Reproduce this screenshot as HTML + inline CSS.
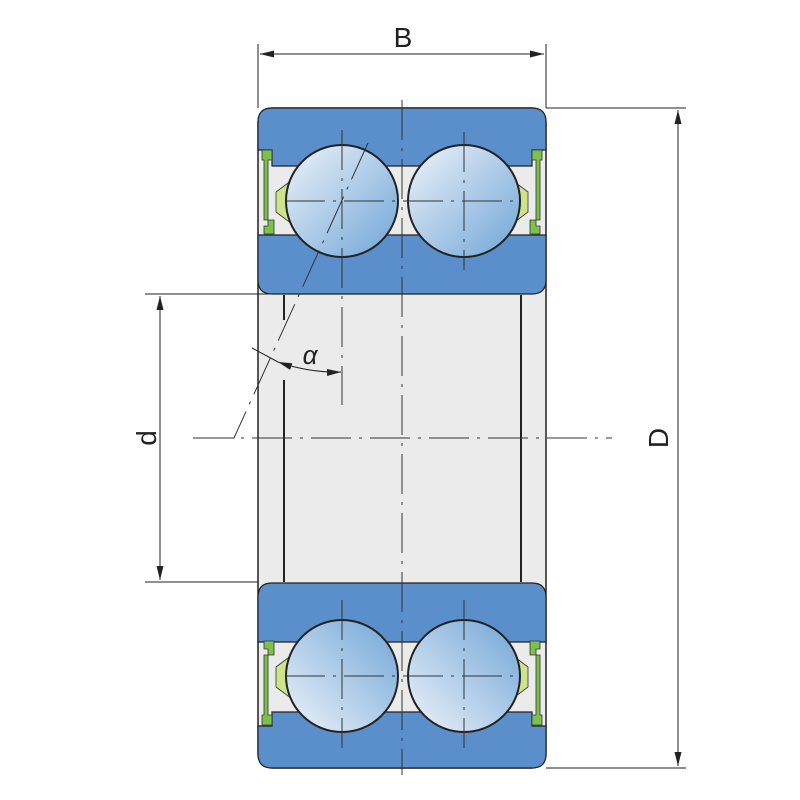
<!DOCTYPE html>
<html><head><style>html,body{margin:0;background:#fff}svg{display:block}</style></head><body>
<svg width="800" height="800" viewBox="0 0 800 800" xmlns="http://www.w3.org/2000/svg" font-family="Liberation Sans, sans-serif">
<defs>
<linearGradient id="bg1" x1="0" y1="0" x2="1" y2="1"><stop offset="0" stop-color="#eef3fa"/><stop offset="1" stop-color="#6fa5d6"/></linearGradient>
<linearGradient id="bg2" x1="0" y1="1" x2="1" y2="0"><stop offset="0" stop-color="#eef3fa"/><stop offset="1" stop-color="#6fa5d6"/></linearGradient>
<marker id="ar2" viewBox="0 0 14 8" refX="14" refY="4" markerWidth="14" markerHeight="8" orient="auto-start-reverse" markerUnits="userSpaceOnUse"><path d="M0,0.5 L14,4 L0,7.5 z" fill="#222"/></marker>
</defs>
<rect x="258" y="108" width="288" height="660" rx="14" fill="#ebebeb" stroke="#222" stroke-width="1.5"/>
<path d="M272,108 H532 Q546,108 546,122 V150 H532 V166 H272 V150 H258 V122 Q258,108 272,108 Z" fill="#5a8fcc" stroke="#222" stroke-width="1.2"/>
<path d="M258,235 H546 V280 Q546,294 532,294 H272 Q258,294 258,280 Z" fill="#5a8fcc" stroke="#222" stroke-width="1.2"/>
<path d="M272,583 H532 Q546,583 546,597 V642 H258 V597 Q258,583 272,583 Z" fill="#5a8fcc" stroke="#222" stroke-width="1.2"/>
<path d="M272,712 H532 V726 H546 V754 Q546,768 532,768 H272 Q258,768 258,754 V726 H272 Z" fill="#5a8fcc" stroke="#222" stroke-width="1.2"/>
<g fill="#cfe38a" stroke="#333" stroke-width="0.8">
<path d="M292,180 L276,192 V212 L292,224 Z"/>
<path d="M512,180 L528,192 V212 L512,224 Z"/>
<path d="M292,655 L276,667 V687 L292,699 Z"/>
<path d="M512,655 L528,667 V687 L512,699 Z"/>
</g>
<g fill="#7cc24a" stroke="#333" stroke-width="0.8">
<path d="M262,150 h10 v10 h-4 v60 h6 v14 h-10 v-8 h4 v-6 h-4 v-60 h-2 z"/>
<path d="M542,150 h-10 v10 h4 v60 h-6 v14 h10 v-8 h-4 v-6 h4 v-60 h2 z"/>
<path d="M262,725 h10 v-10 h-4 v-60 h6 v-14 h-10 v8 h4 v6 h-4 v60 h-2 z"/>
<path d="M542,725 h-10 v-10 h4 v-60 h-6 v-14 h10 v8 h-4 v6 h4 v60 h2 z"/>
</g>
<circle cx="342" cy="201" r="56" fill="url(#bg1)" stroke="#222" stroke-width="2"/>
<circle cx="464" cy="201" r="56" fill="url(#bg1)" stroke="#222" stroke-width="2"/>
<circle cx="342" cy="676" r="56" fill="url(#bg2)" stroke="#222" stroke-width="2"/>
<circle cx="464" cy="676" r="56" fill="url(#bg2)" stroke="#222" stroke-width="2"/>
<g stroke="#222" stroke-width="2">
<line x1="284" y1="295" x2="284" y2="320"/><line x1="284" y1="380" x2="284" y2="582"/>
<line x1="521" y1="295" x2="521" y2="582"/>
</g>
<g stroke="#333" stroke-width="1" stroke-dasharray="40,8,3,8" fill="none">
<line x1="193" y1="438" x2="612" y2="438"/>
<line x1="402" y1="100" x2="402" y2="775"/>
<line x1="342" y1="130" x2="342" y2="405"/>
<line x1="464" y1="132" x2="464" y2="270"/>
<line x1="285" y1="201" x2="520" y2="201"/>
<line x1="342" y1="600" x2="342" y2="748"/>
<line x1="464" y1="600" x2="464" y2="748"/>
<line x1="285" y1="676" x2="520" y2="676"/>
<path d="M368,143 L234,438 L193,438"/>
</g>
<g stroke="#222" stroke-width="1" fill="none">
<line x1="258" y1="44" x2="258" y2="108"/><line x1="546" y1="44" x2="546" y2="108"/>
<line x1="260" y1="54" x2="544" y2="54" marker-start="url(#ar2)" marker-end="url(#ar2)"/>
<line x1="546" y1="108" x2="686" y2="108"/><line x1="546" y1="768" x2="686" y2="768"/>
<line x1="678" y1="110" x2="678" y2="766" marker-start="url(#ar2)" marker-end="url(#ar2)"/>
<line x1="145" y1="294" x2="272" y2="294"/><line x1="145" y1="582" x2="258" y2="582"/>
<line x1="160" y1="296" x2="160" y2="580" marker-start="url(#ar2)" marker-end="url(#ar2)"/>
<line x1="252" y1="348" x2="278" y2="362"/>
<path d="M278,362 Q310,373 341,372" marker-start="url(#ar2)" marker-end="url(#ar2)"/>
</g>
<text x="403" y="47" font-size="28" text-anchor="middle" fill="#222">B</text>
<text x="310" y="364" font-size="26" font-style="italic" text-anchor="middle" fill="#222">α</text>
<text transform="translate(668,438) rotate(-90)" font-size="28" text-anchor="middle" fill="#222">D</text>
<text transform="translate(156,438) rotate(-90)" font-size="28" text-anchor="middle" fill="#222">d</text>
</svg>
</body></html>
